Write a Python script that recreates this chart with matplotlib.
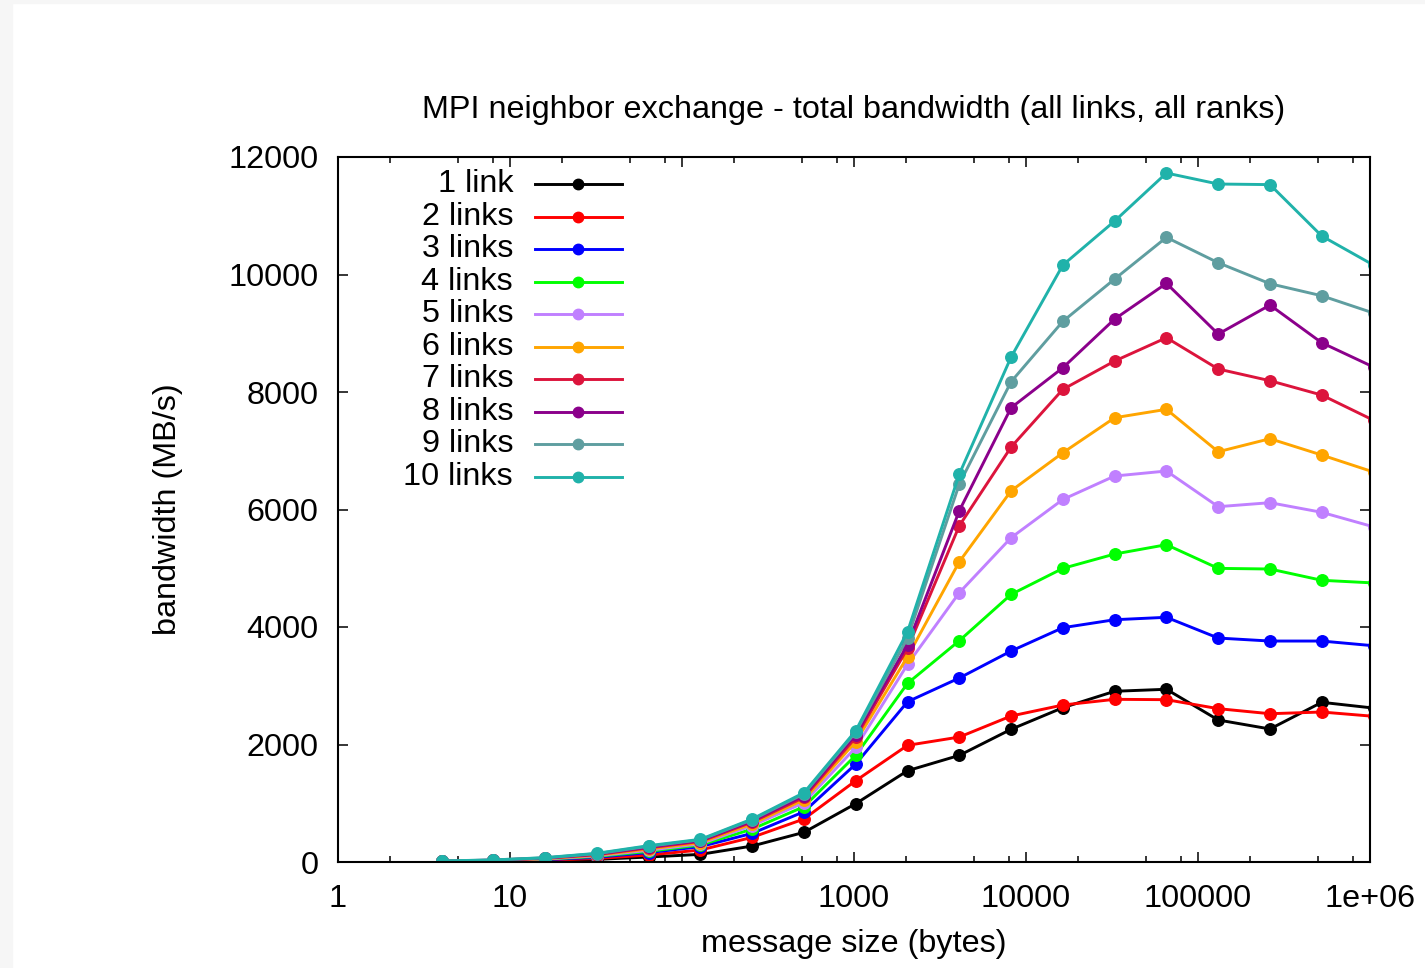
import numpy as np
import matplotlib
matplotlib.use('Agg')
from matplotlib import pyplot as plt
from matplotlib.patches import Rectangle
from matplotlib.ticker import FixedLocator, NullFormatter, FixedFormatter

# message sizes (bytes)
sizes = [4, 8, 16, 32, 64, 128, 256, 512, 1024, 2048, 4096, 8192,
         16384, 32768, 65536, 131072, 262144, 524288, 1048576]

# total bandwidth (MB/s), one list per number of links
bw_1 = [6, 11, 22, 45, 85, 130, 272, 505, 993, 1554, 1815, 2259,
        2627, 2906, 2940, 2417, 2264, 2718, 2620]
bw_2 = [8, 15, 30, 60, 119, 204, 420, 732, 1384, 1986, 2127, 2485,
        2672, 2769, 2763, 2610, 2524, 2553, 2480]
bw_3 = [10, 20, 40, 80, 160, 261, 488, 856, 1668, 2728, 3132, 3591,
        3988, 4124, 4165, 3812, 3761, 3761, 3681]
bw_4 = [12, 24, 48, 95, 180, 290, 560, 942, 1816, 3041, 3767, 4555,
        4998, 5242, 5401, 4998, 4987, 4795, 4750]
bw_5 = [13, 26, 52, 105, 200, 310, 620, 1010, 1950, 3364, 4584, 5520,
        6171, 6570, 6655, 6048, 6116, 5952, 5705]
bw_6 = [14, 28, 57, 115, 220, 330, 650, 1060, 2050, 3494, 5111, 6318,
        6966, 7562, 7705, 6983, 7205, 6927, 6638]
bw_7 = [15, 30, 62, 125, 240, 350, 680, 1100, 2120, 3637, 5724, 7063,
        8045, 8527, 8924, 8391, 8192, 7948, 7519]
bw_8 = [16, 32, 67, 135, 255, 365, 700, 1130, 2170, 3700, 5979, 7732,
        8413, 9242, 9849, 8986, 9480, 8838, 8425]
bw_9 = [17, 34, 71, 142, 268, 378, 720, 1160, 2210, 3812, 6434, 8175,
        9203, 9923, 10632, 10200, 9843, 9638, 9344]
bw_10 = [18, 35, 74, 148, 278, 386, 732, 1180, 2235, 3920, 6604, 8595,
         10161, 10910, 11727, 11540, 11530, 10655, 10160]

series = [bw_1, bw_2, bw_3, bw_4, bw_5, bw_6, bw_7, bw_8, bw_9, bw_10]
labels = ['1 link', '2 links', '3 links', '4 links', '5 links',
          '6 links', '7 links', '8 links', '9 links', '10 links']
colors = ['#000000', '#ff0000', '#0000ff', '#00ff00', '#c080ff',
          '#ffa500', '#dc143c', '#8b008b', '#5f9ea0', '#20b2aa']

x_major = [1, 10, 100, 1000, 10000, 100000, 1000000]
x_major_labels = ['1', '10', '100', '1000', '10000', '100000', '1e+06']
x_minor = [m * 10 ** e for e in range(6) for m in (2, 5, 8)]
y_major = [0, 2000, 4000, 6000, 8000, 10000, 12000]

plt.rcParams['font.family'] = ['Liberation Sans', 'DejaVu Sans']
FS = 23.3

W, H = 1425, 968
fig = plt.figure(figsize=(W / 100, H / 100), dpi=100)
fig.patch.set_facecolor('white')
# screenshot margin (light grey strips at the left and top)
fig.patches.append(Rectangle((0, 0), 12 / W, 1, transform=fig.transFigure,
                             color='#f6f6f6', zorder=0))
fig.patches.append(Rectangle((0, 1 - 3 / H), 1, 3 / H, transform=fig.transFigure,
                             color='#f6f6f6', zorder=0))

left, right, bottom, top = 338, 1370, 862, 157
ax = fig.add_axes([left / W, 1 - bottom / H, (right - left) / W, (bottom - top) / H])

for vals, lab, col in zip(series, labels, colors):
    ax.plot(sizes, vals, color=col, lw=2.1, marker='o', ms=8.3, label=lab)

ax.set_xscale('log')
ax.set_xlim(1, 1e6)
ax.set_ylim(0, 12000)
ax.xaxis.set_major_locator(FixedLocator(x_major))
ax.xaxis.set_major_formatter(FixedFormatter(x_major_labels))
ax.xaxis.set_minor_locator(FixedLocator(x_minor))
ax.xaxis.set_minor_formatter(NullFormatter())
ax.set_yticks(y_major)
ax.set_yticklabels([str(v) for v in y_major])

ax.tick_params(which='both', direction='in', top=True, right=True,
               width=1.1, labelsize=FS, colors='black')
ax.tick_params(which='major', length=7.5)
ax.tick_params(which='minor', length=4)
ax.tick_params(axis='x', pad=16)
ax.tick_params(axis='y', pad=14)
for s in ax.spines.values():
    s.set_linewidth(1.5)

ax.set_title('MPI neighbor exchange - total bandwidth (all links, all ranks)',
             fontsize=FS, pad=28)
ax.set_xlabel('message size (bytes)', fontsize=FS)
ax.set_ylabel('bandwidth (MB/s)', fontsize=FS)
ax.xaxis.label.set_va('center')
ax.xaxis.set_label_coords(0.5, -0.1163)
ax.yaxis.label.set_va('center')
ax.yaxis.set_label_coords(-0.1647, 0.5)

# gnuplot-style key: right-aligned text, sample line with a point
y0, dy = 0.9617, 0.0461
for i, (lab, col) in enumerate(zip(labels, colors)):
    yk = y0 - i * dy
    ax.text(0.1696, yk, lab, transform=ax.transAxes, ha='right', va='center',
            fontsize=FS)
    ax.plot([0.191, 0.275], [yk, yk], transform=ax.transAxes, color=col, lw=2.1)
    ax.plot([0.233], [yk], transform=ax.transAxes, color=col, marker='o', ms=7.5)

fig.savefig('out.png', dpi=100)
